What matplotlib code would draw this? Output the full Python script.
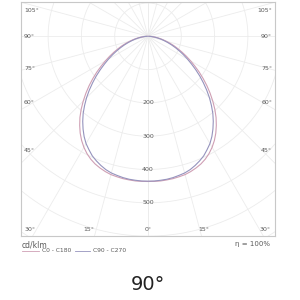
import numpy as np
import matplotlib

matplotlib.use("Agg")
import matplotlib.pyplot as plt

# Luminous intensity (cd/klm) vs gamma angle (deg)
GAMMA = [0, 2.5, 5, 7.5, 10, 12.5, 15, 17.5, 20, 22.5, 25, 27.5, 30, 32.5, 35, 37.5,
         40, 42.5, 45, 47.5, 50, 52.5, 55, 57.5, 60, 62.5, 65, 67.5, 70, 72.5, 75,
         77.5, 80, 82.5, 85, 87.5, 90]
I_C0_C180 = [436, 436, 436, 435, 434, 432, 430, 426, 421, 415, 407, 397, 385, 371, 355, 337,
             318, 297, 275, 253, 231, 209, 188, 167, 148, 130, 113, 97, 83, 69, 56,
             45, 34, 24, 15, 8, 3]
I_C90_C270 = [435, 435, 434, 433, 431, 428, 425, 420, 413, 405, 396, 384, 372, 357, 340, 322,
              303, 282, 261, 239, 217, 196, 175, 155, 137, 120, 104, 89, 75, 62, 50,
              40, 30, 21, 13, 7, 2]

RINGS = [100, 200, 300, 400, 500, 600, 700]
RING_LABELS = [200, 300, 400, 500]
SIDE_ANGLES = ["105°", "90°", "75°", "60°", "45°"]
BOTTOM_ANGLES = ["30°", "15°", "0°", "15°", "30°"]

GRID = "#ececec"
TXT = "#5a5a5a"
COL_C0 = "#cf9fb4"
COL_C90 = "#9593bd"

# pixel layout (figure is 300x300 px)
PX = 300.0
BOX_L, BOX_R, BOX_T, BOX_B = 21, 275, 2, 236
OX, OY = 148.0, 36.3
SCALE = 100.0 / 33.3  # cd/klm per pixel


def to_data(xp, yp):
    return (xp - OX) * SCALE, -(yp - OY) * SCALE


fig = plt.figure(figsize=(3, 3), dpi=100)
ax = fig.add_axes([BOX_L / PX, 1 - BOX_B / PX, (BOX_R - BOX_L) / PX, (BOX_B - BOX_T) / PX])
x0, y1 = to_data(BOX_L, BOX_T)
x1, y0 = to_data(BOX_R, BOX_B)
ax.set_xlim(x0, x1)
ax.set_ylim(y0, y1)
ax.set_xticks([])
ax.set_yticks([])
for s in ax.spines.values():
    s.set_color("#c8c8c8")
    s.set_linewidth(0.8)

# polar grid
t = np.linspace(0, 2 * np.pi, 400)
for r in RINGS:
    ax.plot(r * np.cos(t), r * np.sin(t), color=GRID, lw=0.6, zorder=1)
for a in range(0, 181, 15):
    g = np.radians(a)
    for sgn in (-1, 1):
        ax.plot([0, sgn * 1200 * np.sin(g)], [0, -1200 * np.cos(g)], color=GRID, lw=0.6, zorder=1)

# curves
g = np.radians(np.array(GAMMA, dtype=float))
for vals, col in [(I_C0_C180, COL_C0), (I_C90_C270, COL_C90)]:
    v = np.array(vals, dtype=float)
    xs = np.concatenate([-(v * np.sin(g))[::-1], (v * np.sin(g))[1:]])
    ys = np.concatenate([-(v * np.cos(g))[::-1], -(v * np.cos(g))[1:]])
    ax.plot(xs, ys, color=col, lw=0.8, zorder=3, solid_joinstyle="round")

# ring labels
for r in RING_LABELS:
    ax.text(0, -r, str(r), fontsize=4.5, color=TXT, ha="center", va="center", zorder=4)

# angle labels
side_y = [10, 37, 68, 103, 150]
for lab, yp in zip(SIDE_ANGLES, side_y):
    xd, yd = to_data(24, yp)
    ax.text(xd, yd, lab, fontsize=4.5, color=TXT, ha="left", va="center")
    xd, yd = to_data(272, yp)
    ax.text(xd, yd, lab, fontsize=4.5, color=TXT, ha="right", va="center")
bottom_x = [30, 89, 148, 204, 265]
for lab, xp in zip(BOTTOM_ANGLES, bottom_x):
    xd, yd = to_data(xp, 230)
    ax.text(xd, yd, lab, fontsize=4.5, color=TXT, ha="center", va="center")

# legend and footer
fig.text(22 / PX, 1 - 245 / PX, "cd/klm", fontsize=5.5, color=TXT, ha="left", va="center")
fig.add_artist(plt.Line2D([22 / PX, 39 / PX], [1 - 251 / PX] * 2, color=COL_C0, lw=0.6))
fig.text(42 / PX, 1 - 251 / PX, "C0 - C180", fontsize=4.3, color=TXT, ha="left", va="center")
fig.add_artist(plt.Line2D([75 / PX, 90 / PX], [1 - 251 / PX] * 2, color=COL_C90, lw=0.6))
fig.text(93 / PX, 1 - 251 / PX, "C90 - C270", fontsize=4.3, color=TXT, ha="left", va="center")
fig.text(270 / PX, 1 - 244 / PX, "η = 100%", fontsize=5, color=TXT, ha="right", va="center")

fig.text(148 / PX, 1 - 284 / PX, "90°", fontsize=14, color="#222222", ha="center", va="center")

fig.savefig("out.png", dpi=100)
